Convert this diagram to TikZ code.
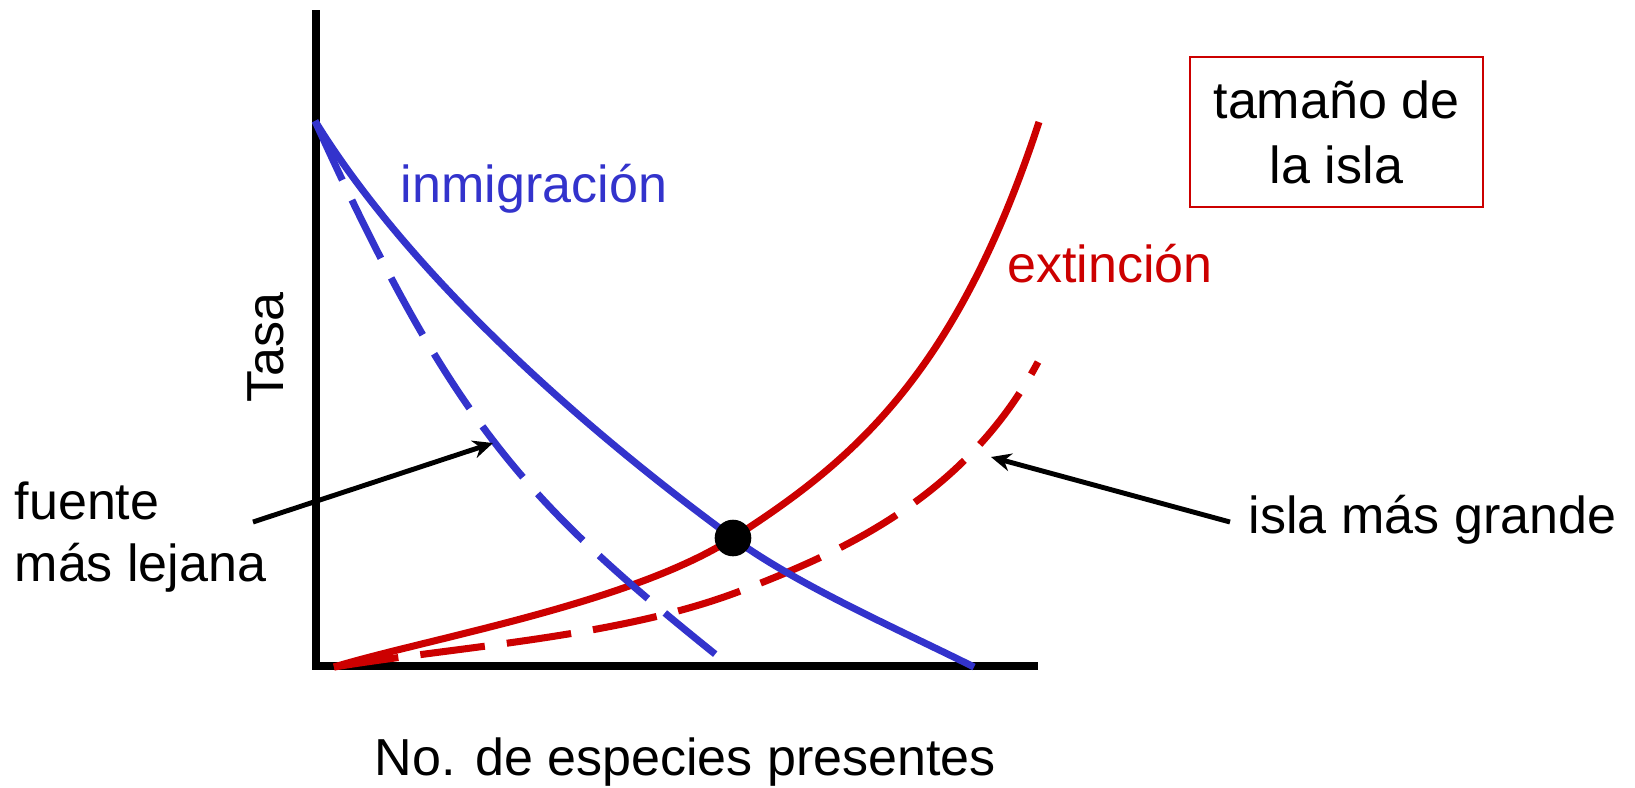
\documentclass[tikz,border=0pt]{standalone}
\usepackage{fontspec}
\setmainfont{Liberation Sans}
\usepackage{tikz}
\usetikzlibrary{arrows.meta}
\definecolor{inmblue}{RGB}{51,51,204}
\definecolor{extred}{RGB}{204,0,0}

\begin{document}
\begin{tikzpicture}[x=0.01cm,y=-0.01cm,
  curva/.style={line width=2pt},
  rayas/.style={curva,dash pattern=on 18.5pt off 6.3pt},
  etiqueta/.style={inner sep=0pt,font=\fontsize{14.8pt}{17.6pt}\selectfont},
  flecha/.style={line width=1.4pt,-{Stealth[length=0.2cm,width=0.18cm]}}]

\useasboundingbox (0,0) rectangle (1635,787);

\def\ejes{(316,10) |- (1038,666)}

% ejes
\draw[line width=2.4pt] \ejes;

% extincion
\draw[curva,extred] (334,667) .. controls (430,638) and (632,603) .. (733,538)
                              .. controls (853,461) and (956,375) .. (1039,122);
\draw[rayas,extred] (334,667) .. controls (462,646) and (622,637) .. (743,590)
                              .. controls (841,552) and (965,498) .. (1038,362);

% inmigracion
\draw[curva,inmblue] (315,121) .. controls (408,272) and (576,423) .. (733,538)
                               .. controls (797,585) and (902,631) .. (974,667);
\draw[rayas,inmblue] (315,121) .. controls (453,425) and (527,503) .. (720,658);

% equilibrio
\node[circle,fill=black,minimum size=0.366cm,inner sep=0pt] (equil) at (733,538) {};

% textos
\node[etiqueta,text=inmblue,anchor=base] (inmig) at (534,202) {inmigración};
\node[etiqueta,text=extred,anchor=base] (extinc) at (1110,282) {extinción};
\node[etiqueta,rotate=90,anchor=base] (tasa) at (283,348) {Tasa};
\node[etiqueta,anchor=base] (especies) at (685.5,775) {No. de especies presentes};
\node[etiqueta,align=left,anchor=west] (fuente) at (14,537) {fuente\\más lejana};
\node[etiqueta,anchor=base] (isla) at (1432.5,533) {isla más grande};
\node[etiqueta,font=\fontsize{14.8pt}{18.5pt}\selectfont,draw=extred,line width=0.7pt,
      minimum width=2.93cm,minimum height=1.5cm,align=center] (tamano) at (1336.5,132) {tamaño de\\la isla};

% flechas
\coordinate (fuentecola) at (253,522);
\coordinate (fuentepunta) at (493,443);
\coordinate (islacola) at (1230,522);
\coordinate (islapunta) at (991,457);
\draw[flecha] (fuentecola) -- (fuentepunta);
\draw[flecha] (islacola) -- (islapunta);

\end{tikzpicture}
\end{document}
